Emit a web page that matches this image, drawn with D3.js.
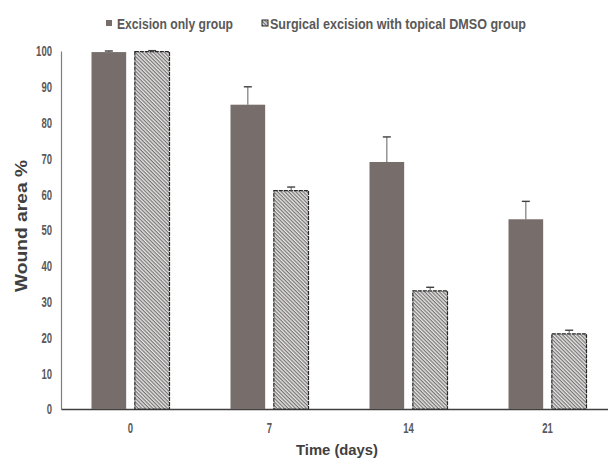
<!DOCTYPE html>
<html>
<head>
<meta charset="utf-8">
<script src="https://cdn.jsdelivr.net/npm/d3@7"></script>
<style>
  body { margin: 0; background: #fff; }
  svg { display: block; font-family: "Liberation Sans Narrow", "Arial Narrow", "Liberation Sans", sans-serif; }
</style>
</head>
<body>
<div id="wrapper"></div>
<script>
// data
const days = ["0", "7", "14", "21"];
const excisionOnly = [99.7, 85, 69, 53];
const excisionErr = [0.3, 5, 7, 5];
const dmsoGroup = [99.8, 61, 33, 21];
const dmsoErr = [0.3, 1, 1, 1];
const seriesNames = ["Excision only group", "Surgical excision with topical DMSO group"];
const yTicks = [0, 10, 20, 30, 40, 50, 60, 70, 80, 90, 100];

const dimension = {
    width: 608,
    height: 459,
    margin: { top: 51, left: 61, bottom: 50, right: -9 }
};
dimension.boundedWidth = dimension.width - dimension.margin.left - dimension.margin.right;
dimension.boundedHeight = dimension.height - dimension.margin.top - dimension.margin.bottom;

const svg = d3.select("#wrapper").append("svg")
    .attr("width", dimension.width)
    .attr("height", dimension.height);

// hatch for the DMSO bars
const defs = svg.append("defs");
const pat = defs.append("pattern")
    .attr("id", "hatch")
    .attr("patternUnits", "userSpaceOnUse")
    .attr("width", 2.6)
    .attr("height", 2.6)
    .attr("patternTransform", "rotate(45)");
pat.append("rect").attr("width", 2.6).attr("height", 2.6).attr("fill", "#e6e6e6");
pat.append("line")
    .attr("x1", 0).attr("y1", 0.6).attr("x2", 2.6).attr("y2", 0.6)
    .attr("stroke", "#7a7474").attr("stroke-width", 1.2);

const bounded = svg.append("g")
    .attr("transform", `translate(${dimension.margin.left},${dimension.margin.top})`);

const x = d3.scaleBand()
    .domain(days)
    .range([0, dimension.boundedWidth]);

const xInner = d3.scaleBand()
    .domain([0, 1])
    .range([x.bandwidth() / 2 - 39, x.bandwidth() / 2 + 39])
    .paddingInner(0.2);

const y = d3.scaleLinear()
    .domain([0, 100])
    .range([dimension.boundedHeight, 0]);

// narrow-looking labels: squeeze glyphs to the widths seen in the picture
function narrow(sel, perChar) {
    sel.attr("textLength", function () { return this.textContent.length * perChar; })
        .attr("lengthAdjust", "spacingAndGlyphs");
}

// axes
const yAxis = bounded.append("g")
    .call(d3.axisLeft(y).tickValues(yTicks).tickSize(0).tickPadding(9));
yAxis.select(".domain").attr("stroke", "#7f7f7f").attr("stroke-width", 1.2);
yAxis.selectAll("text")
    .attr("fill", "#595959")
    .attr("font-size", 15)
    .attr("font-weight", "bold")
    .attr("font-family", "inherit")
    .call(narrow, 5.3);

const xAxis = bounded.append("g")
    .attr("transform", `translate(0,${dimension.boundedHeight})`)
    .call(d3.axisBottom(x).tickSize(0).tickPadding(13));
xAxis.select(".domain").attr("stroke", "#404040").attr("stroke-width", 1.6);
xAxis.selectAll("text")
    .attr("fill", "#595959")
    .attr("font-size", 15)
    .attr("font-weight", "bold")
    .attr("font-family", "inherit")
    .call(narrow, 5.3);

// bars
const groups = bounded.selectAll(".grp")
    .data(days)
    .enter()
    .append("g")
    .attr("transform", d => `translate(${x(d)},0)`);

groups.append("rect")
    .attr("x", xInner(0))
    .attr("y", (d, i) => y(excisionOnly[i]))
    .attr("width", xInner.bandwidth())
    .attr("height", (d, i) => y(0) - y(excisionOnly[i]))
    .attr("fill", "#776e6c");

groups.append("rect")
    .attr("x", xInner(1))
    .attr("y", (d, i) => y(dmsoGroup[i]))
    .attr("width", xInner.bandwidth())
    .attr("height", (d, i) => y(0) - y(dmsoGroup[i]))
    .attr("fill", "url(#hatch)")
    .attr("stroke", "#262626")
    .attr("stroke-width", 1.2)
    .attr("stroke-dasharray", "4,1");

// error bars (upper only)
function errBar(sel, vals, errs, idx) {
    const cx = xInner(idx) + xInner.bandwidth() / 2;
    sel.append("line")
        .attr("x1", cx).attr("x2", cx)
        .attr("y1", (d, i) => y(vals[i]))
        .attr("y2", (d, i) => y(vals[i] + errs[i]))
        .attr("stroke", "#6f6f6f").attr("stroke-width", 1.1);
    sel.append("line")
        .attr("x1", cx - 4).attr("x2", cx + 4)
        .attr("y1", (d, i) => y(vals[i] + errs[i]))
        .attr("y2", (d, i) => y(vals[i] + errs[i]))
        .attr("stroke", "#404040").attr("stroke-width", 1.4);
}
errBar(groups, excisionOnly, excisionErr, 0);
errBar(groups, dmsoGroup, dmsoErr, 1);

// axis titles
svg.append("text")
    .attr("transform", "translate(27,226) rotate(-90)")
    .attr("text-anchor", "middle")
    .attr("fill", "#404040")
    .attr("font-size", 17)
    .attr("font-weight", "bold")
    .attr("font-family", "Liberation Sans, Arial, sans-serif")
    .attr("textLength", 132)
    .attr("lengthAdjust", "spacingAndGlyphs")
    .text("Wound area %");

svg.append("text")
    .attr("x", 337)
    .attr("y", 455)
    .attr("text-anchor", "middle")
    .attr("fill", "#404040")
    .attr("font-size", 15)
    .attr("font-weight", "bold")
    .attr("textLength", 82)
    .attr("lengthAdjust", "spacingAndGlyphs")
    .text("Time (days)");

// legend
const legend = svg.append("g").attr("transform", "translate(106,24)");
const legendX = [0, 156];
const legendLen = [116, 256];
seriesNames.forEach((name, i) => {
    const item = legend.append("g").attr("transform", `translate(${legendX[i]},0)`);
    item.append("rect")
        .attr("x", 0).attr("y", -4)
        .attr("width", 6).attr("height", 6)
        .attr("fill", i === 0 ? "#776e6c" : "url(#hatch)")
        .attr("stroke", i === 0 ? "none" : "#262626")
        .attr("stroke-width", 1);
    item.append("text")
        .attr("x", i === 0 ? 11 : 8).attr("y", 5)
        .attr("fill", "#595959")
        .attr("font-size", 15)
        .attr("font-weight", "bold")
        .attr("textLength", legendLen[i])
        .attr("lengthAdjust", "spacingAndGlyphs")
        .text(name);
});
</script>
</body>
</html>
